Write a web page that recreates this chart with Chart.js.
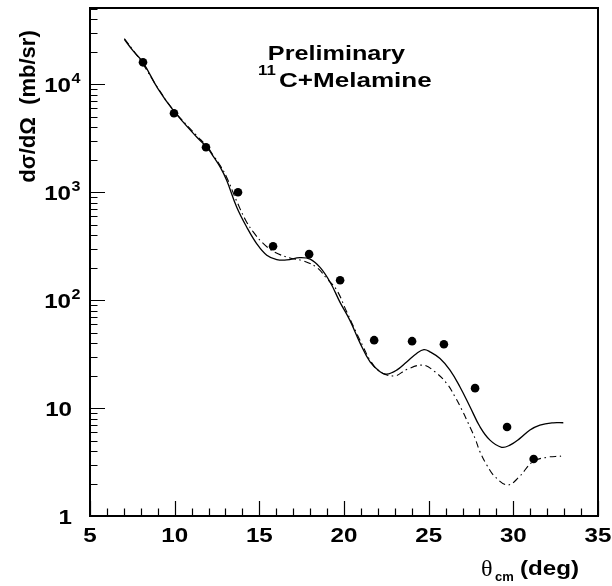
<!DOCTYPE html>
<html>
<head>
<meta charset="utf-8">
<script src="https://cdn.jsdelivr.net/npm/chart.js@4.4.1/dist/chart.umd.min.js"></script>
<style>
  html, body { margin: 0; padding: 0; background: #fff; }
  canvas { display: block; }
</style>
</head>
<body>
<canvas id="c" width="612" height="586" style="width:612px;height:586px"></canvas>
<script>
// ---- data ----
const thetaExp = [8.13, 9.96, 11.85, 13.74, 15.81, 17.94, 19.77, 21.78, 24.02, 25.9, 27.74, 29.63, 31.2];
const sigmaExp = [16000, 5390, 2610, 1000, 316, 267, 153, 42.6, 41.7, 39, 15.3, 6.67, 3.37];

const thetaSolid = [7.03, 7.56, 8.13, 9.0, 9.92, 11.3, 11.89, 12.28, 12.7, 13.07, 13.66, 14.25, 14.84, 15.44, 16.03, 16.62, 17.4, 18.0, 18.6, 19.2, 19.76, 20.35, 20.95, 21.54, 22.13, 22.52, 23.11, 23.7, 24.29, 24.72, 25.08, 25.67, 26.26, 26.85, 27.44, 28.03, 28.62, 29.31, 29.8, 30.39, 30.98, 31.57, 32.36, 32.95];
const sigmaSolid = [26100, 20300, 16000, 9180, 5740, 3250, 2630, 2150, 1700, 1291, 731, 477, 335, 261, 238, 236, 248, 240, 200, 145, 96, 65, 40, 26.8, 21.7, 20.6, 22.5, 26.8, 32.1, 34.8, 33.2, 28.8, 22.5, 15.7, 10.3, 6.71, 5.05, 4.33, 4.54, 5.24, 6.26, 6.96, 7.31, 7.31];

const thetaDashDot = [7.03, 7.56, 8.13, 9.0, 9.92, 11.3, 11.89, 12.28, 12.7, 13.07, 13.66, 14.19, 14.64, 15.2, 15.88, 16.81, 17.6, 18.39, 18.98, 19.57, 20.16, 20.75, 21.14, 21.54, 22.13, 23.01, 23.7, 24.68, 25.37, 26.07, 26.56, 26.95, 27.34, 27.74, 28.03, 28.43, 28.92, 29.67, 30.35, 31.14, 31.93, 32.82];
const sigmaDashDot = [26500, 20600, 15400, 9300, 5800, 3350, 2680, 2200, 1760, 1380, 830, 551, 429, 339, 280, 246, 231, 201, 159, 124, 78, 49.2, 36.9, 27.8, 21.7, 19.9, 22.8, 25.0, 21.7, 16.9, 12.7, 9.72, 7.22, 5.24, 3.94, 2.97, 2.31, 1.94, 2.31, 3.18, 3.49, 3.59];

const xTickLabels = ['5', '10', '15', '20', '25', '30', '35'];
const yTickValues = [1, 10, 100, 1000, 10000];
const yTickExponents = ['', '', '2', '3', '4'];

const titleLine1 = 'Preliminary';
const titleSup = '11';
const titleLine2 = 'C+Melamine';
const yTitle = 'd\u03C3/d\u03A9  (mb/sr)';

const FONT = '"Liberation Sans", Arial, Helvetica, sans-serif';
const SX = 1.15;

function pts(xs, ys) { return xs.map((v, i) => ({ x: v, y: ys[i] })); }

function txt(ctx, s, x, y, font, align, sx) {
  ctx.save();
  ctx.font = font;
  ctx.fillStyle = '#000';
  ctx.textAlign = align;
  ctx.textBaseline = 'alphabetic';
  ctx.translate(x, y);
  ctx.scale(sx, 1);
  ctx.fillText(s, 0, 0);
  ctx.restore();
}

const framePlugin = {
  id: 'frame',
  afterDraw(chart) {
    const ctx = chart.ctx;
    const { left, right, top, bottom } = chart.chartArea;
    const xs = chart.scales.x, ys = chart.scales.y;
    ctx.save();
    ctx.strokeStyle = '#000';
    ctx.lineWidth = 1.2;
    ctx.beginPath();
    for (let v = xs.min; v <= xs.max + 1e-9; v += 1) {
      const px = Math.round(xs.getPixelForValue(v)) + 0.5;
      const major = Math.abs(v % 5) < 1e-9;
      const len = major ? 15 : 7.5;
      ctx.moveTo(px, bottom);
      ctx.lineTo(px, bottom - len);
    }
    for (let d = 0; d < 5; d++) {
      for (let m = 1; m <= 9; m++) {
        const v = m * Math.pow(10, d);
        if (v > ys.max) break;
        const py = Math.round(ys.getPixelForValue(v)) + 0.5;
        const len = m === 1 ? 15 : 7.5;
        ctx.moveTo(left, py);
        ctx.lineTo(left + len, py);
      }
    }
    ctx.stroke();
    ctx.lineWidth = 2;
    ctx.strokeRect(left, top, right - left, bottom - top);
    ctx.restore();

    xTickLabels.forEach(l => {
      const px = xs.getPixelForValue(Number(l));
      txt(ctx, l, px, bottom + 26, 'bold 21px ' + FONT, 'center', SX);
    });
    yTickValues.forEach((v, i) => {
      const py = ys.getPixelForValue(v);
      const base = v === 1 ? '1' : '10';
      const e = yTickExponents[i];
      if (e === '') {
        txt(ctx, base, 72, py + 7.5, 'bold 21px ' + FONT, 'right', SX);
      } else {
        txt(ctx, base, 71, py + 7.5, 'bold 21px ' + FONT, 'right', SX);
        txt(ctx, e, 71.5, py - 1, 'bold 14px ' + FONT, 'left', SX);
      }
    });

    // x title
    txt(ctx, '\u03B8', 481, 576, '23px "Liberation Serif", "DejaVu Serif", serif', 'left', 1.05);
    txt(ctx, 'cm', 495, 581, 'bold 13px ' + FONT, 'left', 1.0);
    txt(ctx, '(deg)', 520, 575, 'bold 21px ' + FONT, 'left', SX);

    // y title
    ctx.save();
    ctx.translate(35, 106.5);
    ctx.rotate(-Math.PI / 2);
    ctx.font = 'bold 22px ' + FONT;
    ctx.fillStyle = '#000';
    ctx.textAlign = 'center';
    ctx.textBaseline = 'alphabetic';
    ctx.fillText(yTitle, 0, 0);
    ctx.restore();

    // annotation
    txt(ctx, titleLine1, 336.5, 59.5, 'bold 21px ' + FONT, 'center', 1.2);
    txt(ctx, titleSup, 258, 75, 'bold 14px ' + FONT, 'left', 1.2);
    txt(ctx, titleLine2, 279, 87, 'bold 21px ' + FONT, 'left', 1.24);
  }
};

new Chart(document.getElementById('c'), {
  type: 'scatter',
  data: {
    datasets: [
      {
        label: 'solid',
        data: pts(thetaSolid, sigmaSolid),
        showLine: true,
        borderColor: '#000',
        borderWidth: 1.3,
        pointRadius: 0,
        tension: 0.4,
        fill: false
      },
      {
        label: 'dashdot',
        data: pts(thetaDashDot, sigmaDashDot),
        showLine: true,
        borderColor: '#000',
        borderWidth: 1.1,
        borderDash: [7, 3.5, 1.5, 3.5],
        pointRadius: 0,
        tension: 0.4,
        fill: false
      },
      {
        label: 'data',
        data: pts(thetaExp, sigmaExp),
        showLine: false,
        pointRadius: 4.3,
        pointBackgroundColor: '#000',
        pointBorderWidth: 0,
        borderColor: '#000'
      }
    ]
  },
  options: {
    responsive: false,
    animation: false,
    events: [],
    layout: { padding: { left: 90, top: 8, right: 14, bottom: 70 } },
    plugins: { legend: { display: false }, tooltip: { enabled: false } },
    scales: {
      x: { type: 'linear', min: 5, max: 35, display: false },
      y: { type: 'logarithmic', min: 1, max: 51000, display: false }
    }
  },
  plugins: [framePlugin]
});
</script>
</body>
</html>
